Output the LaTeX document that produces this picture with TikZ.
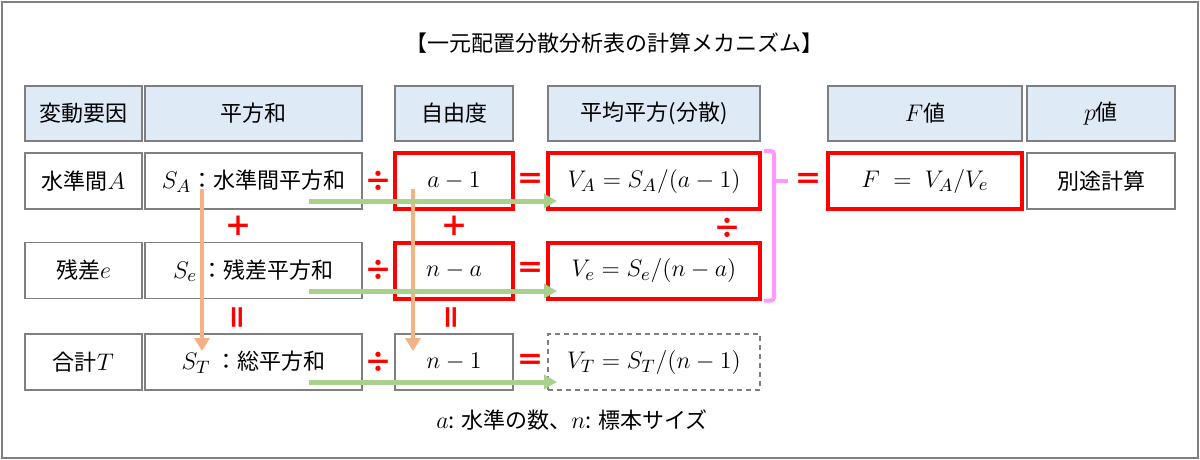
\documentclass[tikz,border=0pt]{standalone}
\usepackage{amsmath}
\usepackage{fontspec}
\setmainfont{Noto Sans CJK JP}
\DeclareMathSizes{11}{12.2}{9}{7}
\usetikzlibrary{arrows.meta}

\definecolor{cellgray}{RGB}{127,127,127}
\definecolor{headblue}{RGB}{222,235,247}
\definecolor{boxred}{RGB}{255,0,0}
\definecolor{arrorange}{RGB}{244,177,131}
\definecolor{arrgreen}{RGB}{169,209,142}
\definecolor{brpink}{RGB}{255,153,255}

\newcommand\cellfont{\fontsize{11pt}{13pt}\selectfont}
\newcommand\opfont{\fontsize{14pt}{14pt}\selectfont\bfseries}

\tikzset{
    cell/.style={draw=cellgray, line width=0.75pt, fill=white, inner sep=0pt, minimum height=28pt, font=\cellfont},
    head/.style={cell, fill=headblue, minimum height=27.5pt},
    redbox/.style={cell, draw=boxred, line width=2pt},
    dashbox/.style={cell, dash pattern=on 2.5pt off 2pt},
    op/.style={text=boxred, inner sep=0pt, font=\opfont},
    orangearr/.style={draw=arrorange, line width=2pt, -{Triangle[length=6.5pt, width=7.5pt]}},
    greenarr/.style={draw=arrgreen, line width=2.5pt, -{Triangle[length=6.5pt, width=7pt]}},
    bracket/.style={draw=brpink, line width=2pt, rounded corners=1.5pt},
}

\begin{document}
\begin{tikzpicture}[x=0.5pt, y=-0.5pt]
    \useasboundingbox (0,0) rectangle (1200,460);
    \draw[cellgray, line width=1pt] (2,2) rectangle (1198,458);
    % title
    \node[font=\cellfont](title) at (614,43) {【一元配置分散分析表の計算メカニズム】};
    % header
    \node[head, minimum width=58.5pt](hfac) at (83.5,113.5) {変動要因};
    \node[head, minimum width=108.5pt](hss) at (253.5,113.5) {平方和};
    \node[head, minimum width=59pt](hdf) at (454,113.5) {自由度};
    \node[head, minimum width=106pt](hms) at (654,113.5) {平均平方(分散)};
    \node[head, minimum width=97pt](hF) at (925,113.5) {$F$値};
    \node[head, minimum width=74pt](hp) at (1101,113.5) {$p$値};
    % between levels
    \node[cell, minimum width=58.5pt](fA) at (83.5,181) {水準間$A$};
    \node[cell, minimum width=108.5pt](ssA) at (253.5,181) {$S_A$：水準間平方和};
    \node[redbox, minimum width=59pt](dfA) at (454,181) {$a-1$};
    \node[redbox, minimum width=106pt](msA) at (654,181) {$V_A=S_A/(a-1)$};
    \node[redbox, minimum width=97pt](Fv) at (925,181) {$F\;=\;V_A/V_e$};
    \node[cell, minimum width=74pt](pv) at (1101,181) {別途計算};
    % residual
    \node[cell, minimum width=58.5pt](fe) at (83.5,270.5) {残差$e$};
    \node[cell, minimum width=108.5pt](sse) at (253.5,270.5) {$S_e$\ ：残差平方和};
    \node[redbox, minimum width=59pt](dfe) at (454,270.5) {$n-a$};
    \node[redbox, minimum width=106pt](mse) at (654,270.5) {$V_e=S_e/(n-a)$};
    % total
    \node[cell, minimum width=58.5pt](fT) at (83.5,362) {合計$T$};
    \node[cell, minimum width=108.5pt](ssT) at (253.5,362) {$S_T$\ ：総平方和};
    \node[cell, minimum width=59pt](dfT) at (454,362) {$n-1$};
    \node[dashbox, minimum width=106pt](msT) at (654,362) {$V_T=S_T/(n-1)$};
    % operators
    \node[op](divA) at (378.5,181) {÷};
    \node[op](divE) at (378.5,270.5) {÷};
    \node[op](divT) at (378.5,362) {÷};
    \node[op](eqA) at (530.5,181) {＝};
    \node[op](eqE) at (530.5,270.5) {＝};
    \node[op](eqT) at (530.5,362) {＝};
    \node[op](plusS) at (238,226) {＋};
    \node[op](plusD) at (454,226) {＋};
    \node[op, rotate=90](eqS) at (240,317) {＝};
    \node[op, rotate=90](eqD) at (454,317) {＝};
    \node[op](divV) at (727,228) {÷};
    \node[op](eqF) at (808,181) {＝};
    % footnote
    \node[font=\cellfont](note) at (572,420) {$a$: 水準の数、$n$: 標本サイズ};
    % arrow ends
    \coordinate (oS1) at (202,189);
    \coordinate (oS2) at (202,351);
    \coordinate (oD1) at (413,189);
    \coordinate (oD2) at (413,351);
    \coordinate (gA1) at (309,201);
    \coordinate (gA2) at (557,201);
    \coordinate (gE1) at (309,291);
    \coordinate (gE2) at (557,291);
    \coordinate (gT1) at (309,382);
    \coordinate (gT2) at (557,382);
    % arrows
    \path
        (oS1) edge [orangearr] (oS2)
        (oD1) edge [orangearr] (oD2)
        (gA1) edge [greenarr] (gA2)
        (gE1) edge [greenarr] (gE2)
        (gT1) edge [greenarr] (gT2)
        ;
    % bracket
    \draw[bracket] ([xshift=1pt]msA.north east) -- ++(5pt,0) |- ([xshift=1pt]mse.south east);
    \draw[bracket] ([xshift=6pt]msA.east) -- ([xshift=13pt]msA.east);
\end{tikzpicture}
\end{document}
